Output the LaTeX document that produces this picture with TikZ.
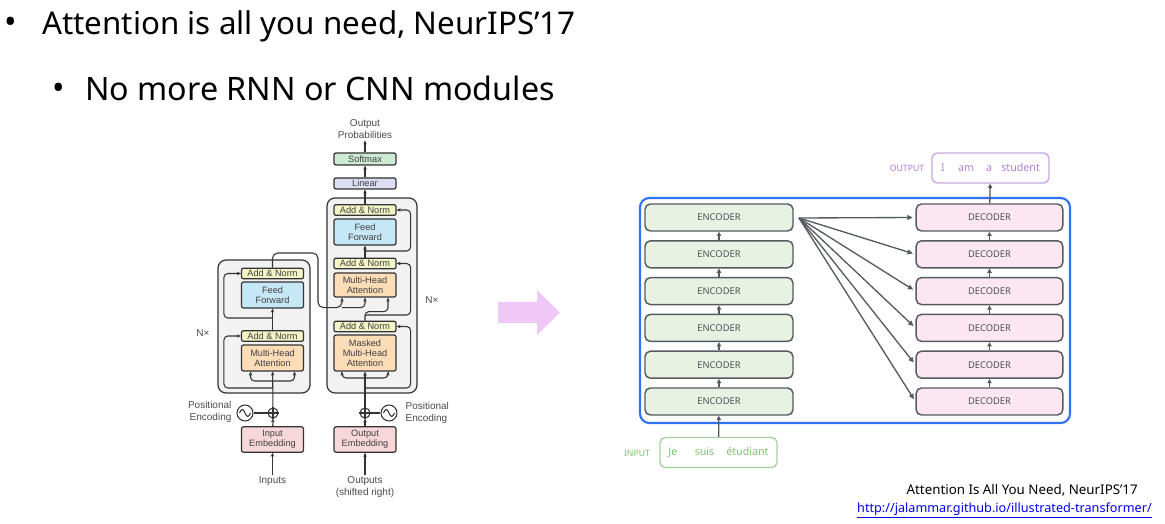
\documentclass[tikz,border=0pt]{standalone}
\usepackage{fontspec}
\setmainfont{Noto Sans}
\newfontfamily\helv{Liberation Sans}
\usetikzlibrary{arrows.meta,positioning,calc}
\definecolor{dgray}{HTML}{555B61}
\definecolor{tgray}{HTML}{333333}
\definecolor{boxgray}{HTML}{F2F2F2}
\definecolor{anyel}{HTML}{F2F5C6}
\definecolor{ffblue}{HTML}{C6E7F5}
\definecolor{mhaor}{HTML}{FCDDB8}
\definecolor{embpk}{HTML}{F7D7D9}
\definecolor{linpu}{HTML}{DCDDF2}
\definecolor{smgrn}{HTML}{CDEAD3}
\definecolor{encgrn}{HTML}{E7F2E2}
\definecolor{decpk}{HTML}{FCE6F2}
\definecolor{stackblue}{HTML}{2F72F3}
\definecolor{outpu}{HTML}{C9A6E0}
\definecolor{outtx}{HTML}{B27FD8}
\definecolor{inpgr}{HTML}{A3D49C}
\definecolor{inptx}{HTML}{7EC26C}
\definecolor{bigarr}{HTML}{F0C8F8}
\definecolor{linkblue}{HTML}{0000EE}
\tikzset{
  tbox/.style={draw=tgray,fill=boxgray,rounded corners=6pt,line width=0.9pt},
  tblk/.style={rectangle,rounded corners=1.5pt,draw=tgray,fill=#1,
               line width=0.9pt,minimum width=46.5pt,inner sep=0pt,
               font=\helv\fontsize{6.9}{7.6}\selectfont,text=black!75,
               align=center},
  tlbl/.style={font=\helv\fontsize{7.5}{9}\selectfont,text=black!70,
               align=center,inner sep=1pt},
  tarr/.style={-{Stealth[length=3pt,width=2.6pt]},line width=0.8pt,color=tgray},
  tline/.style={line width=0.8pt,color=tgray},
  tsum/.style={circle,draw=tgray,fill=white,line width=0.8pt,
               minimum size=7.5pt,inner sep=0pt},
  tpe/.style={circle,draw=tgray,fill=white,line width=0.8pt,
              minimum size=12pt,inner sep=0pt},
  enc/.style={rectangle,rounded corners=4pt,draw=dgray,fill=encgrn,
              line width=1.1pt,minimum width=111pt,minimum height=20.25pt,
              font=\fontsize{7}{8}\selectfont,text=dgray!90!black},
  dec/.style={enc,fill=decpk,minimum width=110pt},
  sarr/.style={-{Triangle[length=3.2pt,width=3.2pt]},line width=1pt,color=dgray},
  wbox/.style={rectangle,rounded corners=4pt,draw=#1,line width=1pt,
               minimum height=22.5pt,font=\fontsize{8}{9}\selectfont},
  wlbl/.style={font=\fontsize{6.5}{8}\selectfont,inner sep=0pt},
  head/.style={anchor=base west,inner sep=0pt,font=\fontsize{#1}{28}\selectfont},
  dot/.style={anchor=base,font=\fontsize{25}{25}\selectfont,inner sep=0pt},
}
\begin{document}
\begin{tikzpicture}[x=0.75pt,y=-0.75pt]
  \fill[white] (0,0) rectangle (1165,524);
  \useasboundingbox (0,0) rectangle (1165,524);

  % bullets
  \node[dot] (bul1) at (11,34) {•};
  \node[head=23.5] (title) at (42,35) {Attention is all you need, NeurIPS’17};
  \node[dot] (bul2) at (59,100) {•};
  \node[head=24.2] (sub) at (85,101) {No more RNN or CNN modules};

  % transformer: encoder side
  \draw[tbox] (218,260) rectangle (310,393);
  \node[tblk=anyel,minimum height=8pt]   (an2_e) at (272.5,273.5) {Add \& Norm};
  \node[tblk=ffblue,minimum height=19.5pt] (ff_e) at (272.5,295) {Feed\\Forward};
  \node[tblk=anyel,minimum height=8pt]   (an1_e) at (272.5,336) {Add \& Norm};
  \node[tblk=mhaor,minimum height=19.5pt] (mha_e) at (272.5,358) {Multi-Head\\Attention};
  \node[tblk=embpk,minimum height=19pt]  (emb_in) at (272.5,439.5) {Input\\Embedding};
  \node[tsum] (add_e) at (273,413) {};
  \node[tpe]  (pe_e)  at (245,413) {};
  \node[tlbl,anchor=east,align=right] (pelbl_e) at (233,412) {Positional\\Encoding};
  \node[tlbl] (inputs) at (272.5,481) {Inputs};
  \node[tlbl] (nx_e) at (203,333) {N×};

  % transformer: decoder side
  \draw[tbox] (327,198) rectangle (417,393);
  \node[tblk=anyel,minimum height=8pt]   (an3_d) at (365,210) {Add \& Norm};
  \node[tblk=ffblue,minimum height=19.5pt] (ff_d) at (365,232) {Feed\\Forward};
  \node[tblk=anyel,minimum height=8pt]   (an2_d) at (365,263.5) {Add \& Norm};
  \node[tblk=mhaor,minimum height=18pt]  (mha_d) at (365,285) {Multi-Head\\Attention};
  \node[tblk=anyel,minimum height=8pt]   (an1_d) at (365,326.5) {Add \& Norm};
  \node[tblk=mhaor,minimum height=27pt]  (mmha) at (365,353) {Masked\\Multi-Head\\Attention};
  \node[tblk=embpk,minimum height=19pt]  (emb_out) at (365,439.5) {Output\\Embedding};
  \node[tblk=linpu,minimum height=8.25pt] (linear) at (365,183.5) {Linear};
  \node[tblk=smgrn,minimum height=9pt]   (softmax) at (365,159) {Softmax};
  \node[tlbl,above=9pt of softmax] (outprob) {Output\\Probabilities};
  \node[tsum] (add_d) at (365,413) {};
  \node[tpe]  (pe_d)  at (389,413) {};
  \node[tlbl,anchor=west,align=left] (pelbl_d) at (404,413) {Positional\\Encoding};
  \node[tlbl] (outputs) at (365,487) {Outputs\\(shifted right)};
  \node[tlbl] (nx_d) at (432,300) {N×};

  % sums and waves
  \foreach \s in {add_e,add_d}
    \draw[tline] (\s.north) -- (\s.south) (\s.west) -- (\s.east);
  \foreach \p in {pe_e,pe_d}
    \draw[tline] ($(\p)+(-5.5,0)$) sin ($(\p)+(-2.75,-3.5)$) cos (\p)
      sin ($(\p)+(2.75,3.5)$) cos ($(\p)+(5.5,0)$);

  % encoder flow
  \draw[tarr] (inputs) -- (emb_in);
  \draw[tarr] (emb_in) -- (add_e);
  \draw[tline] (pe_e) -- (add_e);
  \draw[tarr] (add_e) -- (mha_e);
  \coordinate (e_fork) at (272.5,381);
  \draw[tarr,rounded corners=3pt] (e_fork) -| ($(mha_e.south)+(-22,0)$);
  \draw[tarr,rounded corners=3pt] (e_fork) -| ($(mha_e.south)+(22,0)$);
  \coordinate (e_res1) at (272.5,388);
  \draw[tarr,rounded corners=3pt] (e_res1) -| ($(an1_e.west)+(-17,0)$) -- (an1_e.west);
  \draw[tarr] (an1_e) -- (ff_e);
  \coordinate (e_res2) at (272.5,318);
  \draw[tarr,rounded corners=3pt] (e_res2) -| ($(an2_e.west)+(-17,0)$) -- (an2_e.west);

  % encoder output into decoder
  \coordinate (kv_fork) at ($(mha_d.south)+(-23,10)$);
  \draw[tarr,rounded corners=4pt] (an2_e.north) |- (318,253) |- (kv_fork)
    -- ($(mha_d.south)+(-23,0)$);
  \draw[tarr,rounded corners=3pt] (kv_fork) -| (mha_d.south);

  % decoder flow
  \draw[tarr] (outputs) -- (emb_out);
  \draw[tarr] (emb_out) -- (add_d);
  \draw[tline] (pe_d) -- (add_d);
  \draw[tarr] (add_d) -- (mmha);
  \coordinate (d_fork) at (365,378);
  \draw[tarr,rounded corners=3pt] (d_fork) -| ($(mmha.south)+(-23,0)$);
  \draw[tarr,rounded corners=3pt] (d_fork) -| ($(mmha.south)+(23,0)$);
  \coordinate (d_res1) at (365,388);
  \draw[tarr,rounded corners=3pt] (d_res1) -| ($(an1_d.east)+(14,0)$) -- (an1_d.east);
  \draw[tarr,rounded corners=3pt] (an1_d.north) |- ($(mha_d.south)+(23,14)$)
    -- ($(mha_d.south)+(23,0)$);
  \coordinate (d_res2) at (365,315);
  \draw[tarr,rounded corners=3pt] (d_res2) -| ($(an2_d.east)+(14,0)$) -- (an2_d.east);
  \draw[tarr] (an2_d) -- (ff_d);
  \coordinate (d_res3) at (365,251);
  \draw[tarr,rounded corners=3pt] (d_res3) -| ($(an3_d.east)+(14,0)$) -- (an3_d.east);
  \draw[tarr] (an3_d) -- (linear);
  \draw[tarr] (linear) -- (softmax);
  \draw[tarr] (softmax) -- (outprob);

  % big arrow
  \fill[bigarr] (498,302) -- (537,302) -- (537,290) -- (560,312.5)
    -- (537,335) -- (537,323) -- (498,323) -- cycle;

  % encoder / decoder stacks
  \draw[stackblue,line width=1.6pt,rounded corners=7pt] (640,198) rectangle (1070,423);
  \foreach \i in {1,...,6} {
    \node[enc] (enc\i) at (719,{401.5-36.8*(\i-1)}) {ENCODER};
    \node[dec] (dec\i) at (989.5,{401.5-36.8*(\i-1)}) {DECODER};
  }
  \foreach \i [evaluate=\i as \j using int(\i+1)] in {1,...,5} {
    \draw[sarr] (enc\i) -- (enc\j);
    \draw[sarr] (dec\i) -- (dec\j);
  }
  \coordinate (encout) at (799,218);
  \foreach \i in {1,...,6}
    \draw[-{Triangle[length=4pt,width=3.6pt]},line width=1pt,dgray,shorten >=2pt]
      (encout) -- (dec\i.west);

  % input / output sentences
  \node[wbox=inpgr,text=inptx,minimum width=87.75pt] (inbox) at (718.5,452.5)
    {Je\hspace{13pt}suis\hspace{9pt}étudiant};
  \node[wlbl,text=inptx] (inlbl) at (637,453) {INPUT};
  \node[wbox=outpu,text=outtx,minimum width=87.75pt] (outbox) at (990.5,168)
    {I\hspace{10pt}am\hspace{9pt}a\hspace{7pt}student};
  \node[wlbl,text=outtx] (outlbl) at (907,168) {OUTPUT};
  \draw[sarr] (inbox) -- (enc1);
  \draw[sarr] (dec6) -- (outbox);

  % reference
  \node[anchor=base east,inner sep=0pt,font=\fontsize{10}{12}\selectfont] (cite)
    at (1138,494) {Attention Is All You Need, NeurIPS’17};
  \node[anchor=base east,inner sep=0pt,font=\fontsize{9.5}{12}\selectfont,
        text=linkblue] (link) at (1152,512)
    {\underline{http://jalammar.github.io/illustrated-transformer/}};
\end{tikzpicture}
\end{document}
